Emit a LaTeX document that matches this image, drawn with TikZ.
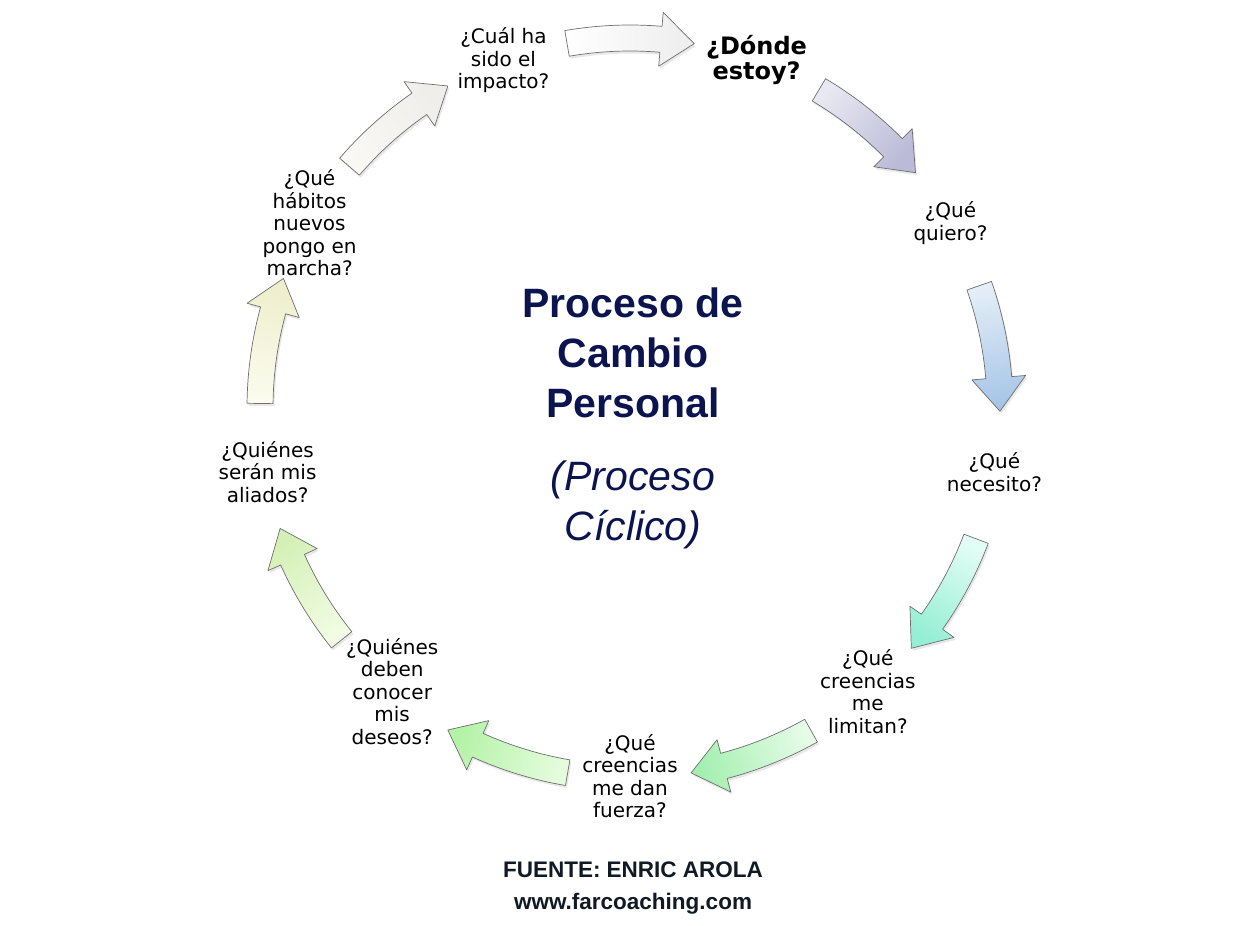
\documentclass[tikz,border=0pt]{standalone}
\usepackage{fontspec}
\setmainfont{DejaVu Sans}
\newfontfamily\arialfont{Liberation Sans}
\usepackage{tikz}
\usetikzlibrary{positioning,calc,shadows}
\definecolor{marino}{HTML}{0C1450}
\definecolor{pie}{HTML}{111A24}
\definecolor{borde}{HTML}{6E6E6E}

% flecha curva sobre el circulo: angulo central, color de cola, color de punta
\newcommand{\flechacurva}[3]{%
  \pgfmathsetmacro{\angini}{#1+9.3}%
  \pgfmathsetmacro{\angfin}{#1-10.5}%
  \pgfmathsetmacro{\angbase}{#1-5.3}%
  \definecolor{colcola}{HTML}{#2}\definecolor{colpunta}{HTML}{#3}%
  \draw[flecha,top color=colcola,bottom color=colpunta,shading angle=#1]
    ($(c)+(\angini:383)$) arc[start angle=\angini,end angle=\angbase,radius=383]
    -- ($(c)+(\angbase:397)$) -- ($(c)+(\angfin:370)$) -- ($(c)+(\angbase:343)$)
    -- ($(c)+(\angbase:357)$) arc[start angle=\angbase,end angle=\angini,radius=357] -- cycle;}

\begin{document}
\begin{tikzpicture}[x=1pt,y=1pt,
  pregunta/.style={align=center,font=\fontsize{20}{22.5}\selectfont,inner sep=0pt},
  titulo/.style={align=center,text=marino,font=\arialfont\bfseries\fontsize{41}{50}\selectfont},
  subtitulo/.style={align=center,text=marino,font=\arialfont\itshape\fontsize{41}{50}\selectfont},
  fuente/.style={align=center,text=pie,font=\arialfont\bfseries\fontsize{22.5}{32}\selectfont},
  flecha/.style={draw=borde,line width=0.7pt,line join=round,drop shadow={opacity=0.18,shadow xshift=1.5pt,shadow yshift=-2.5pt}}]
\useasboundingbox (0,0) rectangle (1254,926);
\coordinate (c) at (630,518);

% flechas del ciclo
\foreach \ang/\cola/\punta in {90.5/FFFFFF/EDEDED,50/E8E8F2/BBBBD8,10/E4EEF8/A6C5E6,-30/E2FDF6/96EFD4,
  -70/E6FCE8/A4EFB0,-109/E4FCDC/B4F2A8,-150.5/F2FCE4/D4F0B6,170/FBFBEE/EEEECC,130/FAF8F5/F0EEEA}
  \flechacurva{\ang}{\cola}{\punta};

% preguntas
\node[pregunta,font=\bfseries\fontsize{24}{25}\selectfont] (donde) at ($(c)+(70:370)$) {¿Dónde\\estoy?};
\node[pregunta] (quiero) at ($(c)+(30:370)$) {¿Qué\\quiero?};
\node[pregunta] (necesito) at ($(c)+(-10:370)$) {¿Qué\\necesito?};
\node[pregunta] (limitan) at ($(c)+(-50:370)$) {¿Qué\\creencias\\me\\limitan?};
\node[pregunta] (fuerza) at ($(c)+(-90:368)$) {¿Qué\\creencias\\me dan\\fuerza?};
\node[pregunta] (deseos) at ($(c)+(-130:370)$) {¿Quiénes\\deben\\conocer\\mis\\deseos?};
\node[pregunta] (aliados) at ($(c)+(-170:368)$) {¿Quiénes\\serán mis\\aliados?};
\node[pregunta] (habitos) at ($(c)+(150:370)$) {¿Qué\\hábitos\\nuevos\\pongo en\\marcha?};
\node[pregunta] (impacto) at ($(c)+(110:370)$) {¿Cuál ha\\sido el\\impacto?};

% centro
\node[titulo] (titulo) at (633,573) {Proceso de\\Cambio\\Personal};
\node[subtitulo] (ciclico) at (633,421) {(Proceso\\Cíclico)};
\node[fuente] (autor) at (633,38) {FUENTE: ENRIC AROLA\\www.farcoaching.com};
\end{tikzpicture}
\end{document}
